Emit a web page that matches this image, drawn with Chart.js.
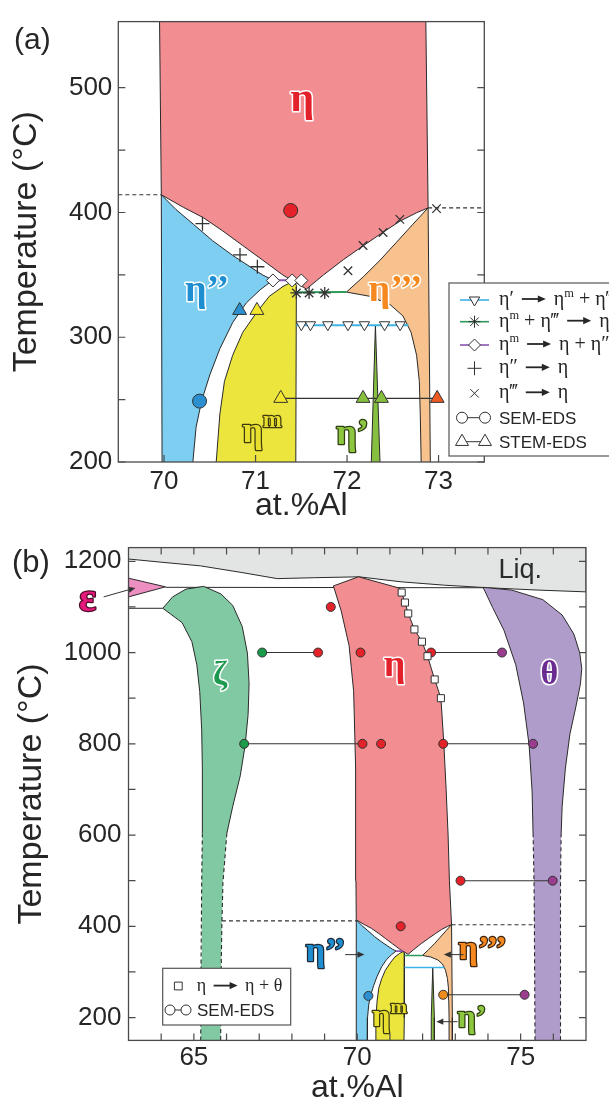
<!DOCTYPE html>
<html>
<head>
<meta charset="utf-8">
<title>Zn-Al eta phase region</title>
<script src="https://cdn.jsdelivr.net/npm/chart.js@4.4.1/dist/chart.umd.min.js"></script>
<style>
  html, body { margin: 0; padding: 0; background: #fff; }
  body { width: 609px; height: 1102px; position: relative; overflow: hidden; }
  canvas { position: absolute; left: 0; }
</style>
</head>
<body>
<canvas id="panelA" width="609" height="525" style="top:0"></canvas>
<canvas id="panelB" width="609" height="577" style="top:525px"></canvas>
<script>
// ---------- axis ticks ----------
const xTicksA = [70, 71, 72, 73];
const yTicksA = [200, 300, 400, 500];
const yMinorA = [250, 350, 450];
const xTicksB = [65, 70, 75];
const xMinorB = [64, 66, 67, 68, 69, 71, 72, 73, 74, 76];
const yTicksB = [200, 400, 600, 800, 1000, 1200];
const yMinorB = [300, 500, 700, 900, 1100];

// ---------- phase boundaries [at.%Al, degC] ----------
// low temperature part (used in both panels)
const etaLeftUpper = [[69.97,414.2],[70.21,404.2],[70.43,395.8],[70.64,385.3],[70.86,373.5],[71.08,361.7],[71.30,349.8],[71.45,343.3],[71.556,338.6]];
const etaRightUpper = [[71.556,338.6],[71.74,349.8],[71.96,362.2],[72.18,373.5],[72.39,384],[72.58,393.1],[72.76,399.8],[72.886,403.7]];
const etaLeftEdgeA = [[69.95,560],[69.97,414.2]];
const etaRightEdgeA = [[72.886,403.7],[72.86,560]];
const eta2Upper = [[69.97,414.2],[70.13,402.4],[70.32,390.6],[70.53,377.4],[70.75,365.6],[70.94,356.5],[71.08,349.8],[71.19,345.9]];
const eta2Right = [[71.19,345.9],[71.05,338],[70.90,327.6],[70.75,311.8],[70.61,290.8],[70.50,269.8],[70.41,248.8],[70.35,227.8],[70.315,200],[70.31,150]];
const eta2LeftEdge = [[69.98,150],[69.97,414.2]];
const etamLeft = [[71.40,344.5],[71.30,340.7],[71.15,332.8],[71.01,319.7],[70.86,303.9],[70.75,285.6],[70.66,264.6],[70.61,238.3],[70.57,200],[70.56,150]];
const etamRight = [[71.40,344.5],[71.446,342],[71.44,200],[71.43,150]];
const eta3Left = [[72.886,403.7],[72.72,390.6],[72.54,376.1],[72.36,361.7],[72.18,348.6],[71.993,336.2]];
const eta3Lower = [[71.993,336.2],[72.25,332.8],[72.47,326.2],[72.61,317.1],[72.70,303.9],[72.76,285.6],[72.79,264.6],[72.80,238.3],[72.81,200],[72.81,150]];
const eta3Right = [[72.886,403.7],[72.91,200],[72.91,150]];
const etaPrime = [[72.265,150],[72.265,200],[72.31,309.7],[72.36,200],[72.36,150]];
const eutecticLine = [[71.446,336],[71.993,336.2]];
const eutectoidLine = [[71.446,309.7],[72.67,309.7]];
const peritectoidLine = [[71.19,345.6],[71.40,345.6]];
const dashLeftA = [[69.5,414.2],[69.97,414.2]];
const dashRightA = [[72.886,403.7],[73.5,403.7]];

// high temperature part (panel b)
const etaHighLeft = [[69.97,414.2],[69.96,500],[69.95,747],[69.89,915],[69.75,1015],[69.51,1091],[69.27,1146]];
const etaHighTop = [[69.27,1146],[70.04,1166],[71.30,1141]];
const etaHighRight = [[71.30,1141],[71.36,1131.5],[71.46,1109.6],[71.56,1085.6],[71.75,1050.7],[71.98,1023.8],[72.15,992],[72.37,941],[72.56,900],[72.65,800],[72.72,700],[72.78,600],[72.82,500],[72.886,403.7]];
const liquidus = [[63,1205],[64,1198],[65.2,1190],[66.5,1175],[67.55,1162],[68.7,1164],[70.05,1166],[71.34,1155],[72.67,1147.6],[74.0,1142],[75.5,1137],[77,1133]];
const liquidTop = [[77,1300],[63,1300]];
const epsilon = [[63,1163],[64.13,1144],[63,1122],[63,1163]];
const peritecticLine = [[64.13,1143],[73.9,1142]];
const zetaShelf = [[63,1097],[64.05,1097]];
const zetaTopLeft = [[64.05,1097],[64.35,1122],[64.76,1139],[65.30,1145]];
const zetaRight = [[65.30,1145],[65.83,1128.4],[66.19,1103.3],[66.48,1057.1],[66.64,998.4],[66.69,931.3],[66.66,864.2],[66.57,797.1],[66.42,729.9],[66.19,662.8],[66.01,604]];
const zetaRightLow = [[66.01,604],[65.89,495],[65.86,411],[65.84,327],[65.82,150]];
const zetaLeftLow = [[65.21,150],[65.22,327],[65.24,495],[65.26,604]];
const zetaLeft = [[65.26,604],[65.26,746.8],[65.24,830.7],[65.18,914.6],[65.09,973.3],[64.94,1023.6],[64.64,1065.6],[64.05,1097]];
const thetaLeft = [[73.85,1143],[74.14,1099],[74.49,1048.7],[74.85,973.2],[75.09,889.3],[75.26,797],[75.35,696.4],[75.38,604]];
const thetaLeftLow = [[75.38,604],[75.41,495],[75.42,411],[75.44,150]];
const thetaRight = [[73.85,1143],[74.73,1136.8],[75.68,1115.9],[76.27,1082.3],[76.63,1040.4],[76.81,998.5],[76.87,965],[76.83,931.4],[76.69,881],[76.51,822.3],[76.37,746.8],[76.27,662.9],[76.24,604]];
const thetaRightLow = [[76.24,604],[76.22,495],[76.22,150]];
const dashLeftB = [[65.86,412],[69.97,412]];
const dashRightB = [[72.886,403.5],[75.42,403.5]];

// ---------- measured points ----------
const etaPrimeDecomp = [[71.50,310],[71.60,310],[71.79,310],[72.01,310],[72.19,310],[72.41,310],[72.58,310]];
const etamEta3ToEta = [[71.446,335.5],[71.585,335.5],[71.756,335.5]];
const etamToEtaEta2 = [[71.19,345.5],[71.40,345.5],[71.50,345.5]];
const eta2ToEta = [[70.42,391],[70.83,366],[71.02,356.5]];
const eta3ToEta = [[72.978,403.1],[72.577,394.5],[72.394,384],[72.175,373.5],[72.01,353.3]];
const semRedA = [[71.384,401.6]];
const semBlueA = [[70.388,248.8]];
const stemBlueA = [[70.826,321.5]];
const stemYellowA = [[71.015,321.5],[71.275,251]];
const stemGreenA = [[72.175,251],[72.376,251]];
const stemOrangeA = [[72.985,251]];
const tieA = [[71.275,251],[72.985,251]];

const etaToEtaTheta = [[71.36,1131.5],[71.46,1109.6],[71.56,1085.6],[71.75,1050.7],[71.98,1023.8],[72.15,992],[72.37,941],[72.56,900]];
const semRedB = [[69.19,1100],[68.80,1000],[70.10,1000],[72.26,1000],[70.16,800],[70.73,800],[72.63,800],[73.16,500],[71.33,400]];
const semGreenB = [[67.09,1000],[66.54,800]];
const semPurpleB = [[74.43,1000],[75.38,800],[75.98,500],[75.12,250]];
const semBlueB = [[70.34,247.5]];
const semOrangeB = [[72.63,250]];
const tiesB = [
  [[67.09,1000],[68.80,1000]],
  [[72.26,1000],[74.43,1000]],
  [[66.54,800],[70.16,800]],
  [[72.63,800],[75.38,800]],
  [[73.16,500],[75.98,500]],
  [[72.63,250],[75.12,250]]
];
const arrowsB = [
  [[62.24,1122],[63.21,1141.7]],
  [[69.63,338],[70.22,338]],
  [[73.25,338],[72.65,338]],
  [[73.07,191],[72.42,191]]
];

// ---------- style ----------
const FONT_SANS = "'Liberation Sans', Arial, Helvetica, sans-serif";
const FONT_SERIF = "'Liberation Serif', 'DejaVu Serif', 'Times New Roman', serif";
const C = {
  eta: '#F28D92', eta2: '#7ECEF1', etam: '#EBE53E', eta3: '#F7C28D', etaP: '#87C040',
  zeta: '#80C9A2', theta: '#B09CCB', eps: '#EE8FC1', liq: '#E3E4E4', edge: '#2a2a2a',
  red: '#E42229', blue: '#2C8FCF', yellow: '#F4E62D', green: '#86BE3E', orange: '#EE5A24',
  semOrange: '#F08C1E', purple: '#9A3D8F', dkGreen: '#1A9A4B'
};

Chart.defaults.font.family = FONT_SANS;
Chart.defaults.color = '#262626';

const pts = arr => arr.map(([x, y]) => ({ x, y }));
const rev = arr => arr.slice().reverse();

function area(points, color, border) {
  return {
    type: 'line', data: pts(points), showLine: true, fill: 'shape', tension: 0,
    backgroundColor: color, borderColor: C.edge, borderWidth: border === false ? 0 : 1,
    pointRadius: 0, order: 20
  };
}
function curve(points, color, width, dash, order) {
  return {
    type: 'line', data: pts(points), showLine: true, fill: false, tension: 0,
    borderColor: color, borderWidth: width, borderDash: dash || [], pointRadius: 0,
    order: order === undefined ? 10 : order
  };
}
function marks(points, style, fill, radius, extra) {
  return Object.assign({
    type: 'scatter', data: pts(points), showLine: false, pointStyle: style,
    pointRadius: radius, pointBackgroundColor: fill, pointBorderColor: '#333',
    pointBorderWidth: 1, order: 0
  }, extra || {});
}

function drawArrow(ctx, x1, y1, x2, y2, head, lw, color) {
  const ang = Math.atan2(y2 - y1, x2 - x1);
  ctx.save();
  ctx.strokeStyle = color; ctx.fillStyle = color; ctx.lineWidth = lw;
  ctx.beginPath();
  ctx.moveTo(x1, y1);
  ctx.lineTo(x2 - Math.cos(ang) * head * 0.8, y2 - Math.sin(ang) * head * 0.8);
  ctx.stroke();
  ctx.beginPath();
  ctx.moveTo(x2, y2);
  ctx.lineTo(x2 - Math.cos(ang) * head + Math.sin(ang) * head * 0.45, y2 - Math.sin(ang) * head - Math.cos(ang) * head * 0.45);
  ctx.lineTo(x2 - Math.cos(ang) * head - Math.sin(ang) * head * 0.45, y2 - Math.sin(ang) * head + Math.cos(ang) * head * 0.45);
  ctx.closePath();
  ctx.fill();
  ctx.restore();
}

// text made of pieces: {t} normal, {t, sup} superscript, {arrow: width}
function drawRich(ctx, segs, x, y, o) {
  const size = o.size, fam = o.family || FONT_SERIF, wt = o.weight || 'bold';
  const items = segs.map(s => {
    if (s.arrow) return { s, w: s.arrow };
    const fs = s.sup ? size * 0.62 : size;
    ctx.font = `${wt} ${fs}px ${fam}`;
    return { s, fs, w: ctx.measureText(s.t).width };
  });
  const total = items.reduce((a, it) => a + it.w, 0);
  let cx = o.align === 'left' ? x : x - total / 2;
  ctx.textAlign = 'left';
  ctx.textBaseline = 'alphabetic';
  ctx.lineJoin = 'round';
  for (const it of items) {
    if (it.s.arrow) {
      drawArrow(ctx, cx + 3, y - size * 0.3, cx + it.w - 3, y - size * 0.3, 8, 1.8, o.fill);
    } else {
      ctx.font = `${wt} ${it.fs}px ${fam}`;
      const yy = it.s.sup ? y - size * 0.4 : y;
      if (o.stroke) {
        ctx.lineWidth = o.strokeWidth || 3;
        ctx.strokeStyle = o.stroke;
        ctx.strokeText(it.s.t, cx, yy);
      }
      ctx.fillStyle = o.fill;
      ctx.fillText(it.s.t, cx, yy);
    }
    cx += it.w;
  }
}

function frameAndTicks(chart, spec) {
  const { ctx, chartArea: a, scales: { x, y } } = chart;
  const L = 7;
  ctx.save();
  ctx.strokeStyle = '#4a4a4a';
  ctx.lineWidth = 1.3;
  ctx.strokeRect(a.left, a.top, a.right - a.left, a.bottom - a.top);
  ctx.lineWidth = 1.2;
  ctx.beginPath();
  (spec.bottom || []).forEach(v => { const p = x.getPixelForValue(v); ctx.moveTo(p, a.bottom); ctx.lineTo(p, a.bottom - L); });
  (spec.top || []).forEach(v => { const p = x.getPixelForValue(v); ctx.moveTo(p, a.top); ctx.lineTo(p, a.top + L); });
  (spec.left || []).forEach(v => { const p = y.getPixelForValue(v); ctx.moveTo(a.left, p); ctx.lineTo(a.left + L, p); });
  (spec.right || []).forEach(v => { const p = y.getPixelForValue(v); ctx.moveTo(a.right, p); ctx.lineTo(a.right - L, p); });
  ctx.stroke();
  ctx.restore();
}

function dataLabels(chart, labels) {
  const { ctx, scales: { x, y } } = chart;
  ctx.save();
  labels.forEach(l => {
    const px = x.getPixelForValue(l.at[0]);
    const py = y.getPixelForValue(l.at[1]) + l.base * l.size;
    drawRich(ctx, l.segs, px, py, l);
  });
  ctx.restore();
}

function point(ctx, style, x, y, r, fill, rot) {
  ctx.save();
  ctx.fillStyle = fill; ctx.strokeStyle = '#333'; ctx.lineWidth = 1;
  Chart.helpers.drawPoint(ctx, { pointStyle: style, radius: r, rotation: rot || 0, borderWidth: 1 }, x, y);
  ctx.restore();
}

function axisOptions(xmin, xmax, ymin, ymax, xt, yt, box) {
  return {
    responsive: false, animation: false, events: [],
    layout: { padding: { top: box.top, right: box.right, left: 0, bottom: 0 } },
    plugins: { legend: { display: false }, tooltip: { enabled: false } },
    scales: {
      x: {
        type: 'linear', min: xmin, max: xmax,
        afterBuildTicks: s => { s.ticks = xt.map(v => ({ value: v })); },
        afterFit: s => { s.height = box.xh; },
        grid: { display: false, drawTicks: false }, border: { display: false },
        ticks: { font: { size: 26 }, padding: box.xpad, color: '#262626', autoSkip: false, maxRotation: 0, callback: v => String(v) },
        title: { display: true, text: 'at.%Al', font: { size: 32, lineHeight: 1 }, color: '#262626', padding: { top: 0, bottom: box.xtitle } }
      },
      y: {
        type: 'linear', min: ymin, max: ymax,
        afterBuildTicks: s => { s.ticks = yt.map(v => ({ value: v })); },
        afterFit: s => { s.width = box.yw; },
        grid: { display: false, drawTicks: false }, border: { display: false },
        ticks: { font: { size: 26 }, padding: box.ypad, color: '#262626', autoSkip: false, callback: v => String(v) },
        title: { display: true, text: 'Temperature (°C)', font: { size: 34, lineHeight: 1 }, color: '#262626', padding: { top: box.ytitle, bottom: 0 } }
      }
    }
  };
}

// ---------- panel (a) ----------
const labelsA = [
  { segs: [{ t: 'η' }], at: [71.51, 485.8], size: 42, base: 0.13, fill: '#E3212B', stroke: '#fff' },
  { segs: [{ t: 'η’’' }], at: [70.47, 336], size: 38, base: 0.24, fill: '#1F8ED0', stroke: '#fff' },
  { segs: [{ t: 'η’’’' }], at: [72.53, 336], size: 38, base: 0.24, fill: '#F5891F', stroke: '#fff' },
  { segs: [{ t: 'η' }, { t: 'm', sup: true }], at: [71.07, 222.6], size: 36, base: 0.22, fill: '#E8DF2E', stroke: '#3d3a10', strokeWidth: 2.5 },
  { segs: [{ t: 'η’' }], at: [72.06, 220.6], size: 36, base: 0.22, fill: '#8DC63F', stroke: '#2f3d12', strokeWidth: 2.5 }
];

const legendA = [
  { y: 300, line: '#3CB2E6', style: 'triangle', rot: 180, r: 6, segs: [{ t: 'η′ ' }, { arrow: 30 }, { t: ' η' }, { t: 'm', sup: true }, { t: ' + η‴' }] },
  { y: 321.7, line: '#2E9B5B', style: 'star', r: 6, segs: [{ t: 'η' }, { t: 'm', sup: true }, { t: ' + η‴ ' }, { arrow: 30 }, { t: ' η' }] },
  { y: 345, line: '#8A55B5', style: 'rectRot', r: 6, segs: [{ t: 'η' }, { t: 'm', sup: true }, { t: ' ' }, { arrow: 30 }, { t: ' η + η″' }] },
  { y: 368.3, style: 'cross', r: 7, segs: [{ t: 'η″ ' }, { arrow: 30 }, { t: ' η' }] },
  { y: 393.3, style: 'crossRot', r: 6, segs: [{ t: 'η‴ ' }, { arrow: 30 }, { t: ' η' }] },
  { y: 417.7, pair: 'circle', r: 5.5, text: 'SEM-EDS' },
  { y: 441.7, pair: 'triangle', r: 7.5, text: 'STEM-EDS' }
];

const decorA = {
  id: 'decorA',
  afterDatasetsDraw(chart) {
    const ctx = chart.ctx;
    dataLabels(chart, labelsA);
    frameAndTicks(chart, { bottom: xTicksA, left: yTicksA.concat(yMinorA), right: yTicksA.concat(yMinorA) });
    // legend box
    ctx.save();
    ctx.fillStyle = '#fff';
    ctx.strokeStyle = '#555';
    ctx.lineWidth = 1.2;
    ctx.fillRect(449, 283, 170, 173);
    ctx.strokeRect(449, 283, 170, 173);
    legendA.forEach(row => {
      if (row.line) {
        ctx.strokeStyle = row.line; ctx.lineWidth = 1.6;
        ctx.beginPath(); ctx.moveTo(460, row.y); ctx.lineTo(489, row.y); ctx.stroke();
      }
      if (row.pair) {
        ctx.strokeStyle = '#333'; ctx.lineWidth = 1;
        ctx.beginPath(); ctx.moveTo(462, row.y); ctx.lineTo(485, row.y); ctx.stroke();
        point(ctx, row.pair, 462, row.y, row.r, '#fff');
        point(ctx, row.pair, 485, row.y, row.r, '#fff');
        ctx.font = `17px ${FONT_SANS}`;
        ctx.fillStyle = '#262626'; ctx.textAlign = 'left'; ctx.textBaseline = 'alphabetic';
        ctx.fillText(row.text, 499, row.y + 6);
      } else {
        point(ctx, row.style, 474.5, row.y, row.r, '#fff', row.rot);
        drawRich(ctx, row.segs, 499, row.y + 5, { size: 20, weight: 'normal', fill: '#262626', align: 'left' });
      }
    });
    // panel tag
    ctx.font = `30px ${FONT_SANS}`;
    ctx.fillStyle = '#262626'; ctx.textAlign = 'left'; ctx.textBaseline = 'alphabetic';
    ctx.fillText('(a)', 14, 49);
    ctx.restore();
  }
};

const datasetsA = [
  marks(stemBlueA, 'triangle', C.blue, 8),
  marks(stemYellowA, 'triangle', C.yellow, 8),
  marks(stemGreenA, 'triangle', C.green, 8),
  marks(stemOrangeA, 'triangle', C.orange, 8),
  marks(semRedA, 'circle', C.red, 7),
  marks(semBlueA, 'circle', C.blue, 7),
  marks(etaPrimeDecomp, 'triangle', '#fff', 6, { rotation: 180 }),
  marks(etamEta3ToEta, 'star', '#333', 6, { pointBorderWidth: 1.3 }),
  marks(etamToEtaEta2, 'rectRot', '#fff', 6.5),
  marks(eta2ToEta, 'cross', '#333', 7, { pointBorderWidth: 1.3 }),
  marks(eta3ToEta, 'crossRot', '#333', 6, { pointBorderWidth: 1.3 }),
  curve(tieA, '#333', 1.2),
  curve(eutecticLine, '#2E9B5B', 2),
  curve(eutectoidLine, '#3CB2E6', 2),
  curve(peritectoidLine, '#8A55B5', 2),
  curve(dashLeftA, '#333', 1.2, [4, 3]),
  curve(dashRightA, '#333', 1.2, [4, 3]),
  area([].concat(etaLeftEdgeA, etaLeftUpper, etaRightUpper, etaRightEdgeA), C.eta),
  area([].concat(eta2Upper, eta2Right, eta2LeftEdge), C.eta2),
  area([].concat(etamRight, rev(etamLeft)), C.etam),
  area([].concat(eta3Right, rev(eta3Lower), rev(eta3Left)), C.eta3),
  area(etaPrime, C.etaP)
];

new Chart(document.getElementById('panelA'), {
  type: 'scatter',
  data: { datasets: datasetsA },
  options: axisOptions(69.5, 73.5, 200, 553, xTicksA, yTicksA,
    { top: 14, right: 124.7, xh: 63, yw: 118.3, xpad: 4, ypad: 6, xtitle: 3, ytitle: 10 }),
  plugins: [decorA]
});

// ---------- panel (b) ----------
const labelsB = [
  { segs: [{ t: 'Liq.' }], at: [74.99, 1185.5], size: 27, base: 0.36, fill: '#2b2b2b', family: FONT_SANS, weight: 'normal' },
  { segs: [{ t: 'ζ' }], at: [65.80, 948], size: 34, base: 0.24, fill: '#1E9A50', stroke: '#fff' },
  { segs: [{ t: 'η' }], at: [71.14, 959], size: 38, base: 0.13, fill: '#E3212B', stroke: '#fff' },
  { segs: [{ t: 'θ' }], at: [75.88, 956.6], size: 34, base: 0.35, fill: '#6B2C91', stroke: '#fff' },
  { segs: [{ t: 'η’’' }], at: [69.03, 342], size: 34, base: 0.24, fill: '#1F8ED0', stroke: '#1d2a36', strokeWidth: 2.5 },
  { segs: [{ t: 'η’’’' }], at: [73.84, 345.7], size: 34, base: 0.24, fill: '#F5891F', stroke: '#3a2410', strokeWidth: 2.5 },
  { segs: [{ t: 'η' }, { t: 'm', sup: true }], at: [70.99, 197], size: 32, base: 0.22, fill: '#E8DF2E', stroke: '#3d3a10', strokeWidth: 2.5 },
  { segs: [{ t: 'η’' }], at: [73.51, 195], size: 32, base: 0.22, fill: '#8DC63F', stroke: '#2f3d12', strokeWidth: 2.5 },
  { segs: [{ t: 'ε' }], at: [61.75, 1111], size: 40, base: 0.23, fill: '#E4197B', stroke: '#4a0a24', strokeWidth: 2.5 }
];

const decorB = {
  id: 'decorB',
  afterDatasetsDraw(chart) {
    const { ctx, scales: { x, y } } = chart;
    dataLabels(chart, labelsB);
    arrowsB.forEach(([p, q]) => drawArrow(ctx,
      x.getPixelForValue(p[0]), y.getPixelForValue(p[1]),
      x.getPixelForValue(q[0]), y.getPixelForValue(q[1]), 7, 1, '#333'));
    frameAndTicks(chart, {
      bottom: xTicksB.concat(xMinorB), top: xTicksB.concat(xMinorB),
      left: yTicksB.concat(yMinorB), right: yTicksB.concat(yMinorB)
    });
    // legend box
    ctx.save();
    ctx.fillStyle = '#fff';
    ctx.strokeStyle = '#555';
    ctx.lineWidth = 1.2;
    ctx.fillRect(162.7, 443.3, 128, 56.7);
    ctx.strokeRect(162.7, 443.3, 128, 56.7);
    point(ctx, 'rect', 178.3, 461, 5.5, '#fff');
    drawRich(ctx, [{ t: 'η ' }, { arrow: 30 }, { t: ' η + θ' }], 196.7, 466, { size: 18, weight: 'normal', fill: '#262626', align: 'left' });
    ctx.strokeStyle = '#333'; ctx.lineWidth = 1;
    ctx.beginPath(); ctx.moveTo(170, 485); ctx.lineTo(186, 485); ctx.stroke();
    point(ctx, 'circle', 170, 485, 5, '#fff');
    point(ctx, 'circle', 186, 485, 5, '#fff');
    ctx.font = `17px ${FONT_SANS}`;
    ctx.fillStyle = '#262626'; ctx.textAlign = 'left'; ctx.textBaseline = 'alphabetic';
    ctx.fillText('SEM-EDS', 197, 491);
    ctx.font = `31px ${FONT_SANS}`;
    ctx.fillText('(b)', 12, 47);
    ctx.restore();
  }
};

const datasetsB = [
  marks(etaToEtaTheta, 'rect', '#fff', 5),
  marks(semRedB, 'circle', C.red, 4.5),
  marks(semGreenB, 'circle', C.dkGreen, 4.5),
  marks(semPurpleB, 'circle', C.purple, 4.5),
  marks(semBlueB, 'circle', C.blue, 4.5),
  marks(semOrangeB, 'circle', C.semOrange, 4.5),
  ...tiesB.map(t => curve(t, '#333', 1.1, null, 5)),
  curve(eutecticLine, '#2E9B5B', 1.6),
  curve(eutectoidLine, '#3CB2E6', 1.6),
  curve(peritectoidLine, '#8A55B5', 1.6),
  curve([].concat(zetaTopLeft, zetaRight), C.edge, 1),
  curve(zetaLeft, C.edge, 1),
  curve(zetaRightLow, C.edge, 1.1, [4, 3]),
  curve(zetaLeftLow, C.edge, 1.1, [4, 3]),
  curve(thetaLeft, C.edge, 1),
  curve(thetaRight, C.edge, 1),
  curve(thetaLeftLow, C.edge, 1.1, [4, 3]),
  curve(thetaRightLow, C.edge, 1.1, [4, 3]),
  curve(dashLeftB, '#333', 1.1, [4, 3]),
  curve(dashRightB, '#333', 1.1, [4, 3]),
  area([].concat(etaHighTop, etaHighRight, rev(etaRightUpper), rev(etaLeftUpper), etaHighLeft), C.eta),
  area([].concat(eta2Upper, eta2Right, eta2LeftEdge), C.eta2),
  area([].concat(etamRight, rev(etamLeft)), C.etam),
  area([].concat(eta3Right, rev(eta3Lower), rev(eta3Left)), C.eta3),
  area(etaPrime, C.etaP),
  area([].concat(zetaTopLeft, zetaRight, zetaRightLow, zetaLeftLow, zetaLeft), C.zeta, false),
  area([].concat(thetaRight, thetaRightLow, rev(thetaLeftLow), rev(thetaLeft)), C.theta, false),
  area(epsilon, C.eps),
  area([].concat(liquidus, liquidTop), C.liq),
  curve(peritecticLine, C.edge, 1, null, 30),
  curve(zetaShelf, C.edge, 1, null, 30)
];

new Chart(document.getElementById('panelB'), {
  type: 'scatter',
  data: { datasets: datasetsB },
  options: axisOptions(63, 77, 150, 1230, xTicksB, yTicksB,
    { top: 21.7, right: 23, xh: 61.6, yw: 128.5, xpad: 2, ypad: 7, xtitle: -2, ytitle: 15 }),
  plugins: [decorB]
});
</script>
</body>
</html>
